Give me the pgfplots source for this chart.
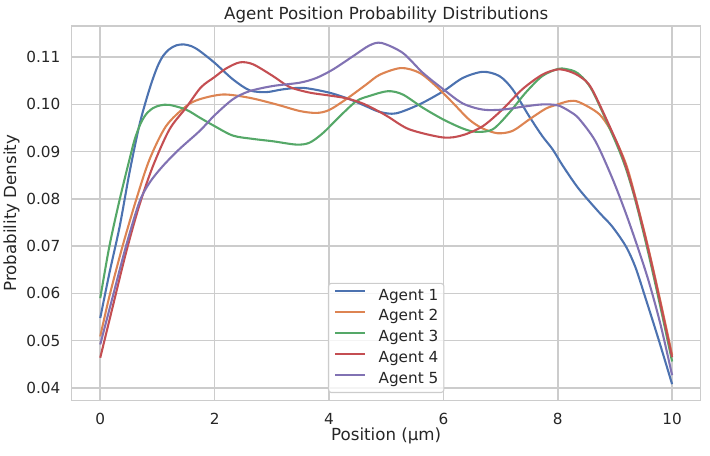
\documentclass[border=0pt]{standalone}
\usepackage{fontspec}
\setmainfont{DejaVu Sans}
\usepackage{pgfplots}
\pgfplotsset{compat=1.18}
\definecolor{c1}{HTML}{4C72B0}
\definecolor{c2}{HTML}{DD8452}
\definecolor{c3}{HTML}{55A868}
\definecolor{c4}{HTML}{C44E52}
\definecolor{c5}{HTML}{8172B3}
\definecolor{txt}{HTML}{262626}
\definecolor{gridc}{HTML}{CCCCCC}
\begin{document}
\begin{tikzpicture}
\useasboundingbox (-51.6pt,-39.1pt) rectangle (459.6pt,288.5pt);
\begin{axis}[
  at={(0pt,0pt)}, anchor=south west,
  scale only axis, width=452.9pt, height=269.8pt,
  xmin=-0.5, xmax=10.5, ymin=0.0373, ymax=0.1166,
  xtick={0,2,4,6,8,10},
  ytick={0.04,0.05,0.06,0.07,0.08,0.09,0.10,0.11},
  grid=major, major grid style={gridc, line width=1.1pt},
  axis line style={gridc, line width=1.1pt},
  major tick length=0pt, tick style={draw=none},
  /pgf/number format/assume math mode=true,
  ticklabel style={font=\fontsize{11}{13}\selectfont, text=txt},
  scaled y ticks=false,
  yticklabel style={/pgf/number format/fixed, /pgf/number format/precision=2, /pgf/number format/fixed zerofill, anchor=east, inner sep=0pt, xshift=-7.9pt},
  xticklabel style={anchor=base, inner sep=0pt, yshift=-16.8pt},
  title={Agent Position Probability Distributions},
  every axis title/.style={font=\fontsize{12}{14}\selectfont, text=txt, at={(axis description cs:0.5,1)}, anchor=base, inner sep=0pt, yshift=5pt},
  xlabel={Position (μm)},
  every axis x label/.style={font=\fontsize{12}{14}\selectfont, text=txt, at={(axis description cs:0.5,0)}, anchor=base, inner sep=0pt, yshift=-29pt},
  ylabel={Probability Density},
  every axis y label/.style={at={(axis description cs:-0.0884,0.5)}, rotate=90, anchor=base, inner sep=0pt, font=\fontsize{12}{14}\selectfont, text=txt},
  legend style={at={(axis description cs:0.5,0.0205)}, anchor=south, draw=gridc, line width=0.8pt, fill=white, fill opacity=0.8, text opacity=1, rounded corners=2pt, font=\fontsize{11}{13}\selectfont, text=txt, inner xsep=4pt, inner ysep=4pt, row sep=4.5pt, nodes={inner sep=0pt, text height=8pt, text depth=2.5pt}},
  legend cell align=left,
  legend image code/.code={\draw[#1, line width=1.5pt] (0pt,3.5pt) -- (21.6pt,3.5pt);},
  /tikz/every odd column/.append style={column sep=9pt},
  every axis plot/.append style={line width=1.5pt, smooth, no markers},
]
\addplot[c1] coordinates {
(0,0.0548) (0.16,0.0643) (0.34,0.0742) (0.51,0.0855) (0.68,0.0954) (0.80,0.1008) (0.90,0.1047) (1.0,0.1080) (1.1,0.1103) (1.21,0.1117) (1.33,0.1125) (1.46,0.1127) (1.6,0.1123) (1.74,0.1113) (2.0,0.1088) (2.32,0.1053) (2.61,0.1030) (2.90,0.1026) (3.20,0.1032) (3.55,0.1035) (4.0,0.1025) (4.36,0.1011) (4.65,0.0996) (4.89,0.0984) (5.17,0.0981) (5.58,0.1000) (6.0,0.1028) (6.34,0.1056) (6.69,0.1069) (6.98,0.1060) (7.21,0.1032) (7.5,0.0975) (7.73,0.0933) (7.91,0.0905) (8.1,0.0868) (8.37,0.0821) (8.72,0.0772) (8.95,0.0742) (9.19,0.0700) (9.36,0.0655) (9.53,0.0592) (9.76,0.0504) (10,0.0408)};
\addlegendentry{Agent 1}
\addplot[c2] coordinates {
(0,0.0509) (0.16,0.0594) (0.39,0.0700) (0.63,0.0799) (0.86,0.0883) (1.15,0.0954) (1.50,0.0996) (1.74,0.1011) (2.15,0.1021) (2.61,0.1014) (3.08,0.1000) (3.49,0.0986) (3.78,0.0982) (4.0,0.0988) (4.30,0.1011) (4.65,0.1042) (4.89,0.1063) (5.26,0.1077) (5.58,0.1067) (5.87,0.1039) (6.16,0.1004) (6.45,0.0968) (6.69,0.0949) (6.95,0.0939) (7.21,0.0944) (7.5,0.0968) (7.79,0.0991) (8.0,0.1000) (8.2,0.1007) (8.37,0.1005) (8.72,0.0980) (8.95,0.0940) (9.19,0.0875) (9.36,0.0803) (9.57,0.0703) (9.78,0.0592) (10,0.0470)};
\addlegendentry{Agent 2}
\addplot[c3] coordinates {
(0,0.0590) (0.16,0.0700) (0.34,0.0799) (0.51,0.0883) (0.60,0.0925) (0.70,0.0958) (0.80,0.0979) (0.92,0.0992) (1.05,0.0998) (1.21,0.0999) (1.50,0.0989) (1.74,0.0972) (2.0,0.0954) (2.32,0.0934) (2.67,0.0927) (3.02,0.0922) (3.43,0.0915) (3.66,0.0919) (3.90,0.0940) (4.19,0.0975) (4.48,0.1007) (4.71,0.1018) (5.03,0.1028) (5.29,0.1021) (5.64,0.0993) (6.0,0.0968) (6.34,0.0949) (6.57,0.0942) (6.86,0.0947) (7.15,0.0982) (7.44,0.1025) (7.73,0.1060) (8.0,0.1075) (8.14,0.1075) (8.35,0.1066) (8.60,0.1030) (9.0,0.0924) (9.19,0.0865) (9.36,0.0796) (9.57,0.0693) (9.78,0.0580) (10,0.0456)};
\addlegendentry{Agent 3}
\addplot[c4] coordinates {
(0,0.0464) (0.22,0.0573) (0.45,0.0686) (0.68,0.0785) (0.92,0.0869) (1.21,0.0947) (1.50,0.0993) (1.76,0.1036) (2.0,0.1058) (2.2,0.1076) (2.44,0.1089) (2.67,0.1085) (3.02,0.1060) (3.31,0.1037) (3.66,0.1025) (4.0,0.1019) (4.30,0.1013) (4.59,0.1002) (4.89,0.0984) (5.06,0.0972) (5.41,0.0947) (6.0,0.0930) (6.34,0.0935) (6.69,0.0954) (7.03,0.0989) (7.38,0.1032) (7.73,0.1063) (8.0,0.1074) (8.2,0.1070) (8.40,0.1058) (8.60,0.1032) (9.01,0.0926) (9.19,0.0870) (9.36,0.0800) (9.57,0.0700) (9.78,0.0588) (10,0.0465)};
\addlegendentry{Agent 4}
\addplot[c5] coordinates {
(0,0.0492) (0.22,0.0594) (0.45,0.0700) (0.68,0.0792) (0.86,0.0834) (1.09,0.0869) (1.38,0.0905) (1.74,0.0944) (2.0,0.0977) (2.32,0.1011) (2.61,0.1028) (3.02,0.1039) (3.49,0.1046) (3.78,0.1056) (4.07,0.1074) (4.42,0.1102) (4.71,0.1125) (4.92,0.1130) (5.29,0.1109) (5.64,0.1067) (6.0,0.1032) (6.34,0.1002) (6.69,0.0989) (7.03,0.0989) (7.38,0.0995) (7.73,0.1000) (8.0,0.0998) (8.2,0.0986) (8.37,0.0970) (8.66,0.0922) (8.95,0.0845) (9.19,0.0770) (9.42,0.0690) (9.6,0.0622) (9.8,0.0533) (10,0.0427)};
\addlegendentry{Agent 5}
\end{axis}
\end{tikzpicture}
\end{document}
